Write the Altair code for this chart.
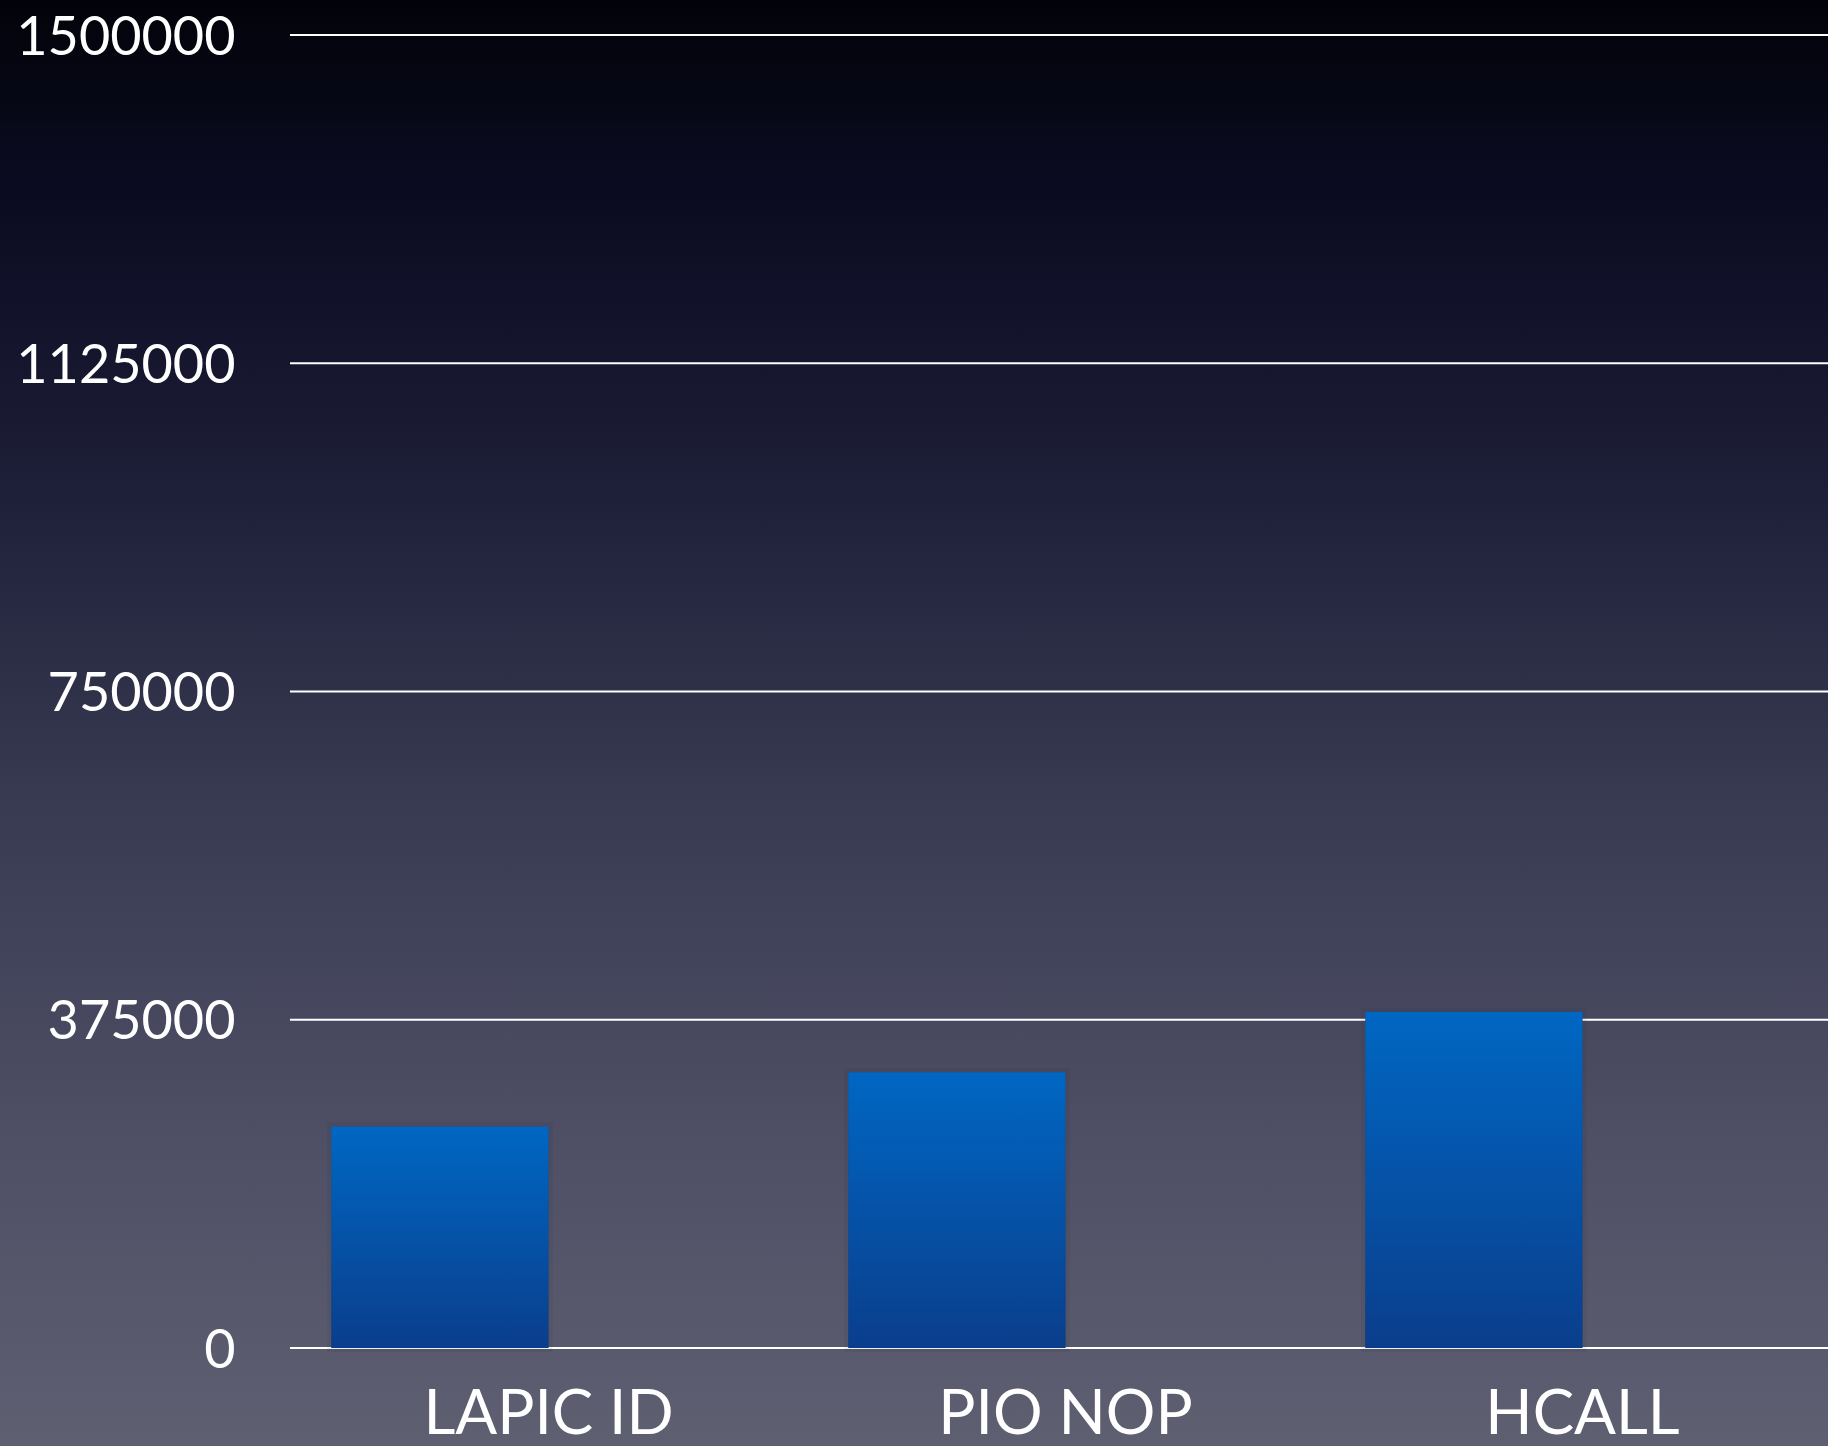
import altair as alt
import pandas as pd

categories = ["LAPIC ID", "PIO NOP", "HCALL"]
series_names = ["Series 1", "Series 2"]
series1_values = [253000, 315000, 384000]
tick_values = [0, 375000, 750000, 1125000, 1500000]

PLOT_W = 1538
PLOT_H = 1313
PAD_L = 290
PAD_T = 35
FULL_W = 1828
FULL_H = 1446
FONT = "Lato"

bars_df = pd.DataFrame({
    "category": categories,
    "series": [series_names[0]] * len(categories),
    "value": series1_values,
})
grid_df = pd.DataFrame({"tick": tick_values})

bg_gradient = alt.Gradient(
    gradient="linear",
    stops=[
        alt.GradientStop(offset=0.0, color="#020309"),
        alt.GradientStop(offset=0.14, color="#0b0c22"),
        alt.GradientStop(offset=0.35, color="#1f2039"),
        alt.GradientStop(offset=0.55, color="#383a52"),
        alt.GradientStop(offset=0.76, color="#4c4d63"),
        alt.GradientStop(offset=1.0, color="#5f5f72"),
    ],
    x1=0, x2=0, y1=0, y2=1,
)

bar_gradient = alt.Gradient(
    gradient="linear",
    stops=[
        alt.GradientStop(offset=0.0, color="#0067c3"),
        alt.GradientStop(offset=1.0, color="#0a3e8c"),
    ],
    x1=0, x2=0, y1=0, y2=1,
)

background = alt.Chart(alt.Data(values=[{}])).mark_rect(
    color=bg_gradient
).encode(
    x=alt.value(-PAD_L),
    x2=alt.value(FULL_W - PAD_L),
    y=alt.value(-PAD_T),
    y2=alt.value(FULL_H - PAD_T),
)

yscale = alt.Scale(domain=[0, 1500000], nice=False)
xscale = alt.Scale(domain=categories, paddingInner=0, paddingOuter=0, range=[0, 1551])

gridlines = alt.Chart(grid_df).mark_rule(color="#ffffff", strokeWidth=2).encode(
    y=alt.Y("tick:Q", scale=yscale),
    x=alt.value(0),
    x2=alt.value(PLOT_W),
)

xoff = alt.XOffset(
    "series:N",
    scale=alt.Scale(domain=series_names, paddingInner=0, paddingOuter=0.19),
)

shadow = alt.Chart(bars_df).mark_bar(
    color="#1a1a28", opacity=0.35, stroke="#1a1a28", strokeWidth=8, strokeOpacity=0.18
).encode(
    x=alt.X("category:N", scale=xscale, sort=categories),
    xOffset=xoff,
    y=alt.Y("value:Q", scale=yscale),
)

bars = alt.Chart(bars_df).mark_bar(color=bar_gradient).encode(
    x=alt.X(
        "category:N",
        scale=xscale,
        sort=categories,
        axis=alt.Axis(
            title=None,
            labelAngle=0,
            labelAlign="center",
            labelFont=FONT,
            labelFontSize=62,
            labelColor="#ffffff",
            labelPadding=66,
            labelLimit=0,
            labelFlush=False,
            labelOverlap=False,
            ticks=False,
            domain=False,
            grid=False,
            zindex=1,
        ),
    ),
    xOffset=xoff,
    y=alt.Y(
        "value:Q",
        scale=yscale,
        axis=alt.Axis(
            title=None,
            values=tick_values,
            format="d",
            labelFont=FONT,
            labelFontSize=54,
            labelColor="#ffffff",
            labelPadding=55,
            labelOffset=3,
            labelLimit=0,
            labelFlush=False,
            labelOverlap=False,
            ticks=False,
            domain=False,
            grid=False,
            zindex=1,
        ),
    ),
)

chart = alt.layer(background, gridlines, shadow, bars).properties(
    width=PLOT_W,
    height=PLOT_H,
    padding={"left": PAD_L, "top": PAD_T, "right": 0, "bottom": FULL_H - PAD_T - PLOT_H},
    autosize=alt.AutoSizeParams(type="none"),
    background="#5f5f72",
).configure_view(stroke=None)

chart.save("out.html", embed_options={"renderer": "svg", "actions": False})
